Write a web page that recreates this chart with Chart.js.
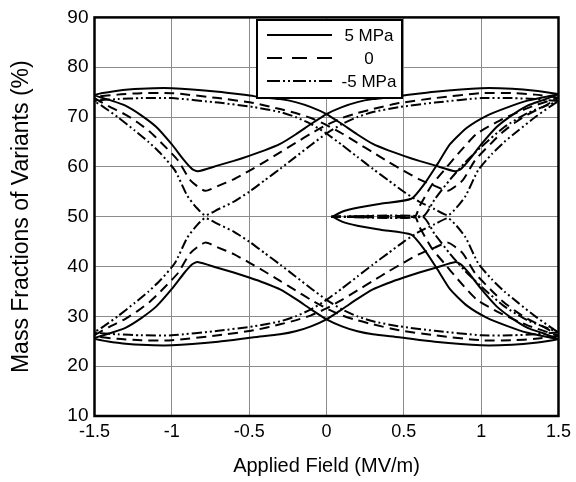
<!DOCTYPE html>
<html lang="en">
<head>
<meta charset="UTF-8">
<title>Mass Fractions of Variants</title>
<script src="https://cdn.jsdelivr.net/npm/chart.js@4.4.1/dist/chart.umd.min.js"></script>
<style>
    * { margin: 0; padding: 0; box-sizing: border-box; }
    body { background: #fff; width: 576px; height: 482px; overflow: hidden; }
    .chart-box { position: relative; width: 576px; height: 482px; }
    canvas { display: block; }
</style>
</head>
<body>
<div class="chart-box"><canvas id="variantChart" width="576" height="482"></canvas></div>
<script>
// tick values
const xTicks = [-1.5, -1, -0.5, 0, 0.5, 1, 1.5];
const yTicks = [10, 20, 30, 40, 50, 60, 70, 80, 90];
const legendLabels = ['5 MPa', '0', '-5 MPa'];

// 5 MPa : full loop (down-sweep then up-sweep), both variants
const loopField5 = [1.5,1.35,1.2,1.0,0.7,0.47,0.3,0.2,0.1,0,-0.1,-0.2,-0.3,-0.4,-0.5,-0.6,-0.7,-0.834,-0.87,-0.92,-1.0,-1.1,-1.2,-1.3,-1.4,-1.5,
    -1.35,-1.2,-1.0,-0.7,-0.47,-0.3,-0.2,-0.1,0,0.1,0.2,0.3,0.4,0.5,0.6,0.7,0.834,0.87,0.92,1.0,1.1,1.2,1.3,1.4,1.5];
const loopUpper5 = [74.6,75.3,75.7,75.8,75.1,74.2,73.6,73.0,72.0,70.6,68.6,66.5,64.6,63.3,62.2,61.2,60.3,59.1,59.6,61.3,64.5,68.0,70.4,72.3,73.4,74.4,
    75.3,75.7,75.8,75.1,74.2,73.6,73.0,72.0,70.6,68.6,66.5,64.6,63.3,62.2,61.2,60.3,59.1,59.6,61.3,64.5,68.0,70.4,72.3,73.4,74.6];
const loopLower5 = [25.4,24.7,24.3,24.2,24.9,25.8,26.4,27.0,28.0,29.4,31.4,33.5,35.4,36.7,37.8,38.8,39.7,40.9,40.4,38.7,35.5,32.0,29.6,27.7,26.6,25.6,
    24.7,24.3,24.2,24.9,25.8,26.4,27.0,28.0,29.4,31.4,33.5,35.4,36.7,37.8,38.8,39.7,40.9,40.4,38.7,35.5,32.0,29.6,27.7,26.6,25.4];
const initField5 = [0.04,0.1,0.2,0.35,0.548,0.633,0.718,0.8,0.91,1.038,1.166,1.3,1.5];
const initUpper5 = [50,51.0,51.8,52.6,53.6,56.6,60.6,64.6,67.9,70.3,71.9,73.3,74.6];
const initLower5 = [50,49.0,48.2,47.4,46.4,43.4,39.4,35.4,32.1,29.7,28.1,26.7,25.4];

// 0 MPa
const loopField0 = [1.5,1.35,1.2,1.0,0.7,0.47,0.3,0.2,0.1,0,-0.1,-0.2,-0.3,-0.4,-0.5,-0.6,-0.7,-0.785,-0.88,-0.96,-1.07,-1.14,-1.22,-1.3,-1.41,-1.5,
    -1.35,-1.2,-1.0,-0.7,-0.47,-0.3,-0.2,-0.1,0,0.1,0.2,0.3,0.4,0.5,0.6,0.7,0.785,0.88,0.96,1.07,1.14,1.22,1.3,1.41,1.5];
const loopUpper0 = [73.9,74.5,74.8,74.8,73.8,72.8,71.6,70.8,69.8,68.4,66.7,64.8,62.9,61.0,59.2,57.5,56.2,55.2,57.3,61.3,64.9,67.0,68.9,70.5,72.2,73.9,
    74.5,74.8,74.8,73.8,72.8,71.6,70.8,69.8,68.4,66.7,64.8,62.9,61.0,59.2,57.5,56.2,55.2,57.3,61.3,64.9,67.0,68.9,70.5,72.2,73.9];
const loopLower0 = [26.1,25.5,25.2,25.2,26.2,27.2,28.4,29.2,30.2,31.6,33.3,35.2,37.1,39.0,40.8,42.5,43.8,44.8,42.7,38.7,35.1,33.0,31.1,29.5,27.8,26.1,
    25.5,25.2,25.2,26.2,27.2,28.4,29.2,30.2,31.6,33.3,35.2,37.1,39.0,40.8,42.5,43.8,44.8,42.7,38.7,35.1,33.0,31.1,29.5,27.8,26.1];
const initField0 = [0.03,0.57,0.6,0.68,0.76,0.85,0.97,1.12,1.3,1.5];
const initUpper0 = [50,50,52,56.3,59.3,62.6,66.6,69.3,71.8,73.9];
const initLower0 = [50,50,48,43.7,40.7,37.4,33.4,30.7,28.2,26.1];

// -5 MPa
const loopFieldM5 = [1.5,1.35,1.2,1.0,0.7,0.47,0.3,0.2,0.1,0,-0.1,-0.2,-0.3,-0.4,-0.5,-0.6,-0.7,-0.785,-0.84,-0.9,-0.98,-1.07,-1.15,-1.24,-1.35,-1.45,-1.5,
    -1.35,-1.2,-1.0,-0.7,-0.47,-0.3,-0.2,-0.1,0,0.1,0.2,0.3,0.4,0.5,0.6,0.7,0.785,0.84,0.9,0.98,1.07,1.15,1.24,1.35,1.45,1.5];
const loopUpperM5 = [73.2,73.6,73.8,73.8,72.9,72.0,71.0,70.0,68.6,66.7,64.4,62.0,59.6,57.3,55.0,53.0,51.5,50.3,51.8,54.2,59.3,62.6,65.0,67.3,70.0,72.2,73.2,
    73.6,73.8,73.8,72.9,72.0,71.0,70.0,68.6,66.7,64.4,62.0,59.6,57.3,55.0,53.0,51.5,50.3,51.8,54.2,59.3,62.6,65.0,67.3,70.0,72.2,73.2];
const loopLowerM5 = [26.8,26.4,26.2,26.2,27.1,28.0,29.0,30.0,31.4,33.3,35.6,38.0,40.4,42.7,45.0,47.0,48.5,49.7,48.2,45.8,40.7,37.4,35.0,32.7,30.0,27.8,26.8,
    26.4,26.2,26.2,27.1,28.0,29.0,30.0,31.4,33.3,35.6,38.0,40.4,42.7,45.0,47.0,48.5,49.7,48.2,45.8,40.7,37.4,35.0,32.7,30.0,27.8,26.8];
const initFieldM5 = [0.03,0.62,0.7,0.8,0.9,1.0,1.15,1.3,1.5];
const initUpperM5 = [50,50,53.5,57.5,61,64,68,70.8,73.2];
const initLowerM5 = [50,50,46.5,42.5,39,36,32,29.2,26.8];

const fontFam = "'Liberation Sans', Arial, sans-serif";
const dashes = [[], [10, 6], [10, 3, 2, 3, 2, 3]];

function pts(xs, ys) {
    return xs.map((x, i) => ({ x: x, y: ys[i] }));
}

function line(xs, ys, style) {
    return {
        data: pts(xs, ys),
        showLine: true,
        borderColor: '#000',
        borderWidth: 2,
        borderDash: dashes[style],
        pointRadius: 0,
        tension: 0.2,
        fill: false
    };
}

const datasets = [
    line(initFieldM5, initUpperM5, 2), line(initFieldM5, initLowerM5, 2),
    line(loopFieldM5, loopUpperM5, 2), line(loopFieldM5, loopLowerM5, 2),
    line(initField0, initUpper0, 1), line(initField0, initLower0, 1),
    line(loopField0, loopUpper0, 1), line(loopField0, loopLower0, 1),
    line(initField5, initUpper5, 0), line(initField5, initLower5, 0),
    line(loopField5, loopUpper5, 0), line(loopField5, loopLower5, 0)
];

// thick box round the plot
const framePlugin = {
    id: 'frame',
    afterDatasetsDraw(chart) {
        const a = chart.chartArea, c = chart.ctx;
        c.save();
        c.strokeStyle = '#000';
        c.lineWidth = 2.5;
        c.strokeRect(a.left, a.top, a.right - a.left, a.bottom - a.top);
        c.restore();
    }
};

// legend box inside the plot
const boxLegend = {
    id: 'boxLegend',
    afterDraw(chart) {
        const c = chart.ctx;
        const bx = 257, by = 20, bw = 145, bh = 78;
        c.save();
        c.fillStyle = '#fff';
        c.fillRect(bx, by, bw, bh);
        c.strokeStyle = '#000';
        c.lineWidth = 2;
        c.strokeRect(bx, by, bw, bh);
        const legDash = [[], [15, 10], [13, 3, 2, 3, 2, 3]];
        c.font = '17px ' + fontFam;
        c.fillStyle = '#000';
        c.textAlign = 'center';
        c.textBaseline = 'middle';
        legendLabels.forEach((lab, i) => {
            const yy = 35 + i * 23;
            c.beginPath();
            c.setLineDash(legDash[i]);
            c.lineWidth = 2;
            c.moveTo(267, yy);
            c.lineTo(332, yy);
            c.stroke();
            c.fillText(lab, 369, yy + 1);
        });
        c.restore();
    }
};

new Chart(document.getElementById('variantChart'), {
    type: 'scatter',
    data: { datasets: datasets },
    options: {
        responsive: false,
        animation: false,
        devicePixelRatio: 1,
        layout: { padding: { top: 14, right: 13, left: 0, bottom: 0 } },
        plugins: { legend: { display: false }, tooltip: { enabled: false } },
        scales: {
            x: {
                type: 'linear',
                min: -1.5,
                max: 1.5,
                afterBuildTicks: s => { s.ticks = xTicks.map(v => ({ value: v })); },
                afterFit: s => { s.height = 66; },
                ticks: {
                    color: '#000',
                    padding: 5,
                    maxRotation: 0,
                    font: { family: fontFam, size: 18 },
                    callback: v => String(v)
                },
                grid: { color: '#8c8c8c', lineWidth: 1, drawTicks: false },
                border: { display: false },
                title: {
                    display: true,
                    text: 'Applied Field (MV/m)',
                    color: '#000',
                    font: { family: fontFam, size: 20 },
                    padding: { top: 0, bottom: 4 }
                }
            },
            y: {
                min: 10,
                max: 90,
                afterBuildTicks: s => { s.ticks = yTicks.map(v => ({ value: v })); },
                afterFit: s => { s.width = 94.5; },
                ticks: {
                    color: '#000',
                    padding: 6,
                    font: { family: fontFam, size: 19 },
                    callback: v => String(v)
                },
                grid: { color: '#8c8c8c', lineWidth: 1, drawTicks: false },
                border: { display: false },
                title: {
                    display: true,
                    text: 'Mass Fractions of Variants (%)',
                    color: '#000',
                    font: { family: fontFam, size: 23 },
                    padding: { top: 8, bottom: 0 }
                }
            }
        }
    },
    plugins: [framePlugin, boxLegend]
});
</script>
</body>
</html>
